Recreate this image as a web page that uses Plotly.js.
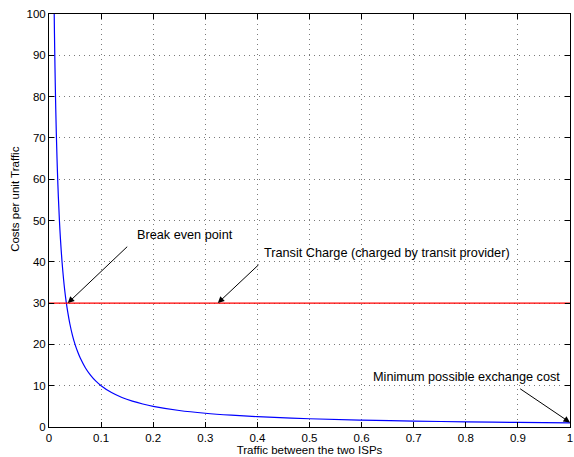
<!DOCTYPE html>
<html>
<head>
<meta charset="utf-8">
<script src="https://cdn.plot.ly/plotly-3.0.1.min.js"></script>
<style>html,body{margin:0;padding:0;background:#fff;}#chart{width:574px;height:457px;}</style>
</head>
<body>
<div id="chart"></div>
<script>
// Exchange cost per unit traffic (blue curve)
const trafficX = [0.01,0.0105,0.011,0.0115,0.012,0.013,0.014,0.015,0.016,0.018,0.02,0.022,0.025,0.028,0.03,0.033,0.036,0.04,0.045,0.05,0.055,0.06,0.07,0.08,0.09,0.1,0.12,0.14,0.16,0.18,0.2,0.25,0.3,0.35,0.4,0.5,0.6,0.7,0.8,0.9,1.0];
const exchangeCost = [100,95.2,90.9,87,83.3,76.9,71.4,66.7,62.5,55.6,50,45.5,40,35.7,33.3,30.3,27.8,25,22.2,20,18.2,16.7,14.3,12.5,11.1,10,8.33,7.14,6.25,5.56,5,4,3.33,2.86,2.5,2,1.67,1.43,1.25,1.11,1];
// Transit charge (red line)
const transitX = [0, 1];
const transitCost = [30, 30];
// Tick values
const xTicks = [0,0.1,0.2,0.3,0.4,0.5,0.6,0.7,0.8,0.9,1];
const xTickText = ["0","0.1","0.2","0.3","0.4","0.5","0.6","0.7","0.8","0.9","1"];
const yTicks = [0,10,20,30,40,50,60,70,80,90,100];
// Annotation texts and anchor points
const labels = ["Break even point", "Transit Charge (charged by transit provider)", "Minimum possible exchange cost"];
const labelPos = [[0.1655, 46.6], [0.408, 42.1], [0.618, 12.2]];
const arrowHeads = [[0.036, 30], [0.324, 30], [1.0, 1.1]];
const arrowTails = [[0.153, 44.0], [0.405, 39.6], [0.9015, 9.5]];

const font = "Liberation Sans, Arial, Helvetica, sans-serif";

const traces = [
  {x: trafficX, y: exchangeCost, type: 'scatter', mode: 'lines', line: {color: '#0000ff', width: 1.2, shape: 'spline'}, hoverinfo: 'skip'},
  {x: transitX, y: transitCost, type: 'scatter', mode: 'lines', line: {color: '#ff0000', width: 1.2}, hoverinfo: 'skip'}
];

const annotations = [];
labels.forEach((t, i) => {
  annotations.push({x: labelPos[i][0], y: labelPos[i][1], xref: 'x', yref: 'y', text: t, showarrow: false,
    xanchor: 'left', yanchor: 'middle', font: {family: font, size: 12.7, color: '#000'}});
  annotations.push({x: arrowHeads[i][0], y: arrowHeads[i][1], ax: arrowTails[i][0], ay: arrowTails[i][1],
    xref: 'x', yref: 'y', axref: 'x', ayref: 'y', text: '', showarrow: true,
    arrowhead: 2, arrowsize: 1.3, arrowwidth: 1, arrowcolor: '#000', standoff: 0, startstandoff: 0});
});
annotations.push({xref: 'paper', yref: 'paper', x: 0, y: 0.55, xshift: -34, text: 'Costs per unit Traffic',
  textangle: -90, showarrow: false, xanchor: 'center', yanchor: 'middle', font: {family: font, size: 11.5, color: '#000'}});

const axisCommon = {
  showline: true, linecolor: '#000', linewidth: 1, mirror: 'ticks',
  ticks: 'inside', ticklen: 5, tickcolor: '#000', tickwidth: 1,
  showgrid: true, gridcolor: '#7a7a7a', gridwidth: 1, griddash: '1px,4px',
  zeroline: false, ticklabeloverflow: 'allow',
  tickfont: {family: font, size: 11.5, color: '#000'}
};

const layout = {
  width: 574, height: 457,
  margin: {l: 49, r: 4, t: 14, b: 30, pad: 0},
  paper_bgcolor: '#fff', plot_bgcolor: '#fff',
  showlegend: false,
  font: {family: font, color: '#000'},
  xaxis: Object.assign({}, axisCommon, {range: [0, 1], tickvals: xTicks, ticktext: xTickText,
    title: {text: 'Traffic between the two ISPs', font: {family: font, size: 11.5, color: '#000'}, standoff: 2}}),
  yaxis: Object.assign({}, axisCommon, {range: [0, 100], tickvals: yTicks}),
  annotations: annotations
};

Plotly.newPlot('chart', traces, layout, {staticPlot: true, displayModeBar: false});
</script>
</body>
</html>
